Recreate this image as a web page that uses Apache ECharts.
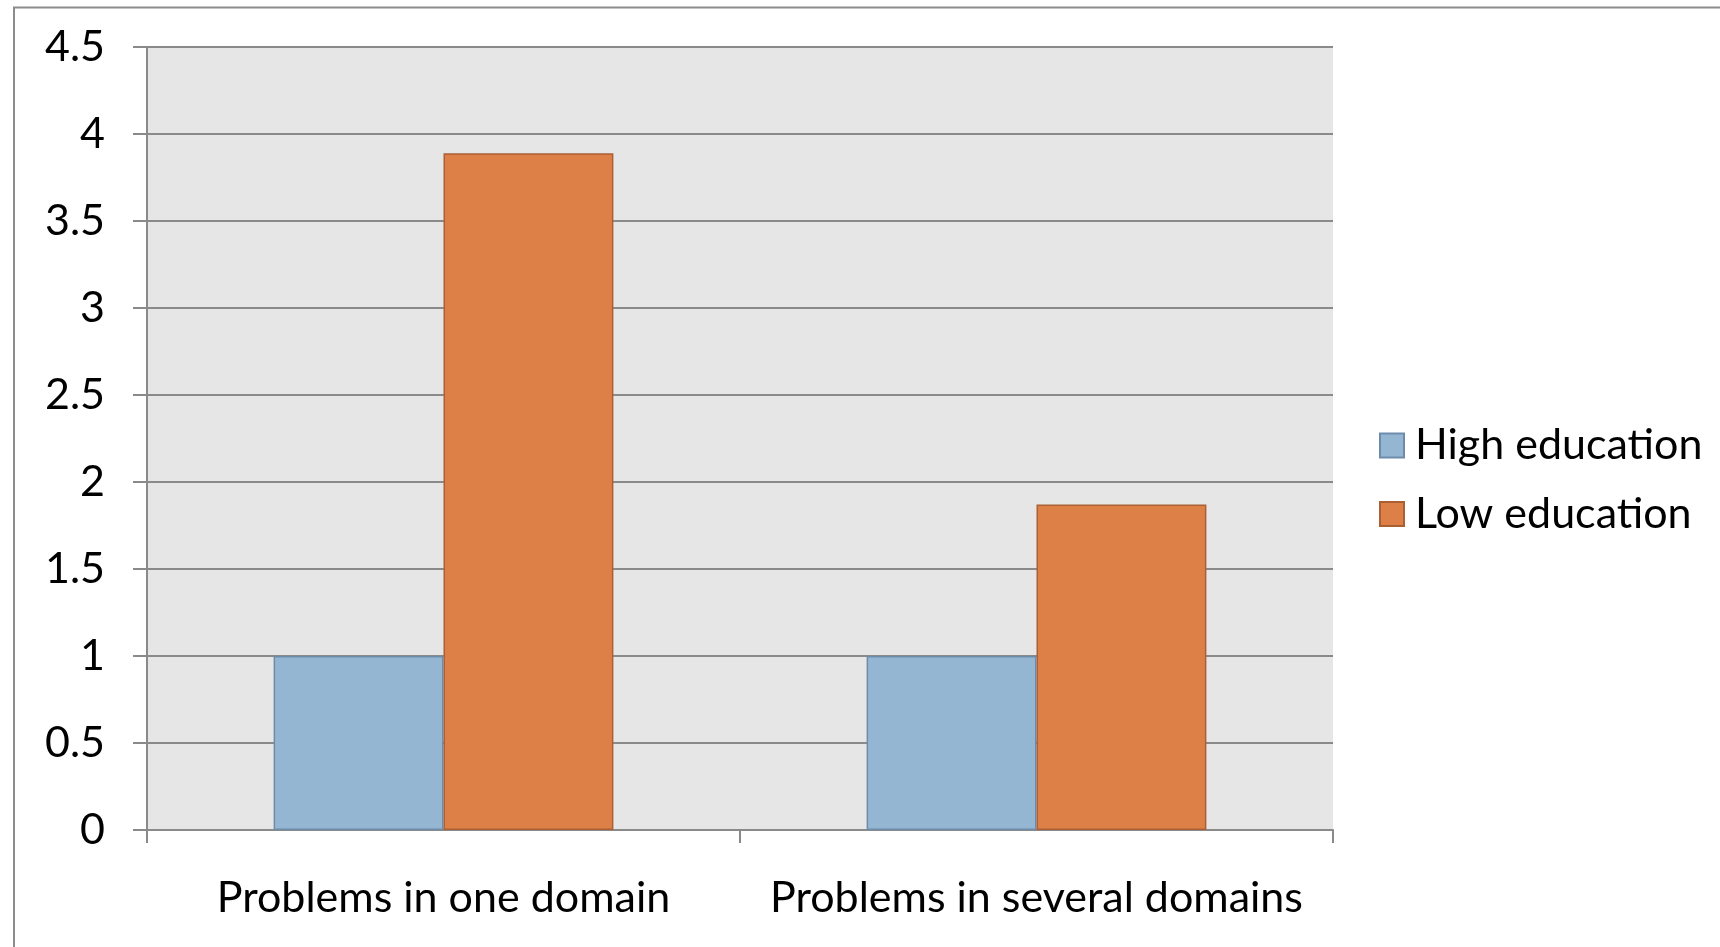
<!DOCTYPE html>
<html>
<head>
<meta charset="utf-8">
<script src="https://cdn.jsdelivr.net/npm/echarts@6/dist/echarts.min.js"></script>
<style>
html,body{margin:0;padding:0;background:#fff;}
#chart{width:1720px;height:947px;}
</style>
</head>
<body>
<div id="chart"></div>
<script>
const categories = ['Problems in one domain', 'Problems in several domains'];
const highEducation = [1, 1];
const lowEducation = [3.89, 1.87];
const seriesNames = ['High education', 'Low education'];

const FONT = 'Lato';
const chart = echarts.init(document.getElementById('chart'));
chart.setOption({
  animation: false,
  backgroundColor: '#ffffff',
  textStyle: { fontFamily: FONT },
  graphic: [{
    type: 'rect',
    shape: { x: 14, y: 7.5, width: 1800, height: 1000 },
    style: { fill: 'none', stroke: '#8c8c8c', lineWidth: 2 },
    silent: true
  }],
  grid: {
    left: 147, right: 387, top: 47, bottom: 117,
    show: true, backgroundColor: '#e6e6e6', borderWidth: 0
  },
  legend: {
    orient: 'vertical',
    left: 1379, top: 424, padding: 0,
    itemWidth: 24, itemHeight: 24, itemGap: 25.5,
    icon: 'rect',
    textStyle: { fontFamily: FONT, fontSize: 43, color: '#000', padding: [0, 0, 0, 6] },
    data: seriesNames
  },
  xAxis: {
    type: 'category',
    data: categories,
    axisLine: { lineStyle: { color: '#8a8a8a', width: 2 } },
    axisTick: { show: true, length: 13, lineStyle: { color: '#8a8a8a', width: 2 } },
    axisLabel: { fontFamily: FONT, fontSize: 43, color: '#000', margin: 47, interval: 0 }
  },
  yAxis: {
    type: 'value',
    min: 0, max: 4.5, interval: 0.5,
    axisLine: { show: true, lineStyle: { color: '#8a8a8a', width: 2 } },
    axisTick: { show: true, length: 14, lineStyle: { color: '#8a8a8a', width: 2 } },
    splitLine: { lineStyle: { color: '#8a8a8a', width: 2 } },
    axisLabel: { fontFamily: FONT, fontSize: 43, color: '#000', margin: 42 }
  },
  series: [
    {
      name: seriesNames[0], type: 'bar', data: highEducation,
      barGap: '0%', barCategoryGap: '42.7%',
      itemStyle: { color: '#95b6d3', borderColor: '#6d8cab', borderWidth: 1.5 }
    },
    {
      name: seriesNames[1], type: 'bar', data: lowEducation,
      barGap: '0%', barCategoryGap: '42.7%',
      itemStyle: { color: '#dd8048', borderColor: '#ab5f35', borderWidth: 1.5 }
    }
  ]
});
</script>
</body>
</html>
